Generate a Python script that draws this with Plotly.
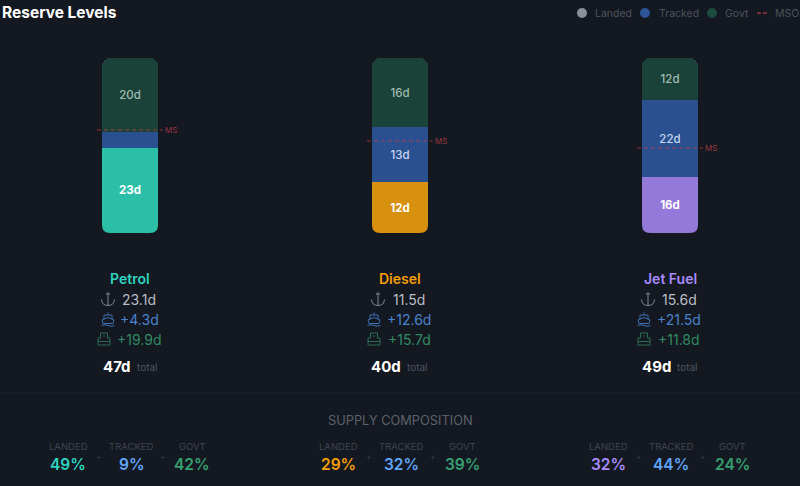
import plotly.graph_objects as go

fuels = ['Petrol', 'Diesel', 'Jet Fuel']
landed = [23.1, 11.5, 15.6]
tracked = [4.3, 12.6, 21.5]
govt = [19.9, 15.7, 11.8]
totals = [47, 40, 49]
mso_pct = [58.9, 52.6, 48.6]

landed_lbl = ['23d', '12d', '16d']
tracked_lbl = ['', '13d', '22d']
govt_lbl = ['20d', '16d', '12d']

landed_row = ['23.1d', '11.5d', '15.6d']
tracked_row = ['+4.3d', '+12.6d', '+21.5d']
govt_row = ['+19.9d', '+15.7d', '+11.8d']

landed_share = ['49%', '29%', '32%']
tracked_share = ['9%', '32%', '44%']
govt_share = ['42%', '39%', '24%']

fuel_colors = ['#2cbfa8', '#d8900f', '#9379d9']
name_colors = ['#2dd4bf', '#f59e0b', '#a78bfa']
share_colors = ['#2dd4bf', '#f59e0b', '#a78bfa']
BG = '#141820'
TRACKED = '#2a5090'
GOVT = '#1b4239'
FONT = 'Inter'

W, H = 800, 486
centers = [130, 400, 670]
UNIT = 270


def px(x, y):
    return f'{x / W:.5f},{1 - y / H:.5f}'


def path(color, d, width=1.0, fill=None):
    # d is a list of (command, (x, y), (x, y)...) in pixels
    out = ''
    for part in d:
        out += part[0] + ' '.join(px(*p) for p in part[1:]) + ' '
    return dict(type='path', xref='paper', yref='paper', path=out.strip(), fillcolor=fill,
                line=dict(color=color, width=width), layer='above')


def anchor_icon(cx, cy, color):
    return [
        path(color, [('M', (cx - 1.8, cy - 5)), ('Q', (cx, cy - 7.4), (cx + 1.8, cy - 5)),
                     ('Q', (cx, cy - 2.6), (cx - 1.8, cy - 5))]),
        path(color, [('M', (cx, cy - 3.4)), ('L', (cx, cy + 6.5))]),
        path(color, [('M', (cx - 6.5, cy + 0.5)), ('Q', (cx - 6, cy + 6.5), (cx, cy + 6.5)),
                     ('Q', (cx + 6, cy + 6.5), (cx + 6.5, cy + 0.5))]),
    ]


def ship_icon(cx, cy, color):
    return [
        path(color, [('M', (cx - 6, cy + 1)), ('L', (cx, cy - 1.5)), ('L', (cx + 6, cy + 1)),
                     ('L', (cx + 5, cy + 4.5)), ('L', (cx - 5, cy + 4.5)), ('Z',)]),
        path(color, [('M', (cx - 4, cy)), ('L', (cx - 4, cy - 4)), ('L', (cx + 4, cy - 4)), ('L', (cx + 4, cy))]),
        path(color, [('M', (cx, cy - 4)), ('L', (cx, cy - 6.5))]),
        path(color, [('M', (cx - 6.5, cy + 6.5)), ('Q', (cx - 3, cy + 5), (cx, cy + 6.5)),
                     ('Q', (cx + 3, cy + 8), (cx + 6.5, cy + 6.5))]),
    ]


def tank_icon(cx, cy, color):
    return [
        path(color, [('M', (cx - 6, cy + 6)), ('L', (cx - 6, cy - 1)), ('L', (cx - 3.5, cy - 1)),
                     ('L', (cx - 3.5, cy - 6)), ('L', (cx + 3.5, cy - 6)), ('L', (cx + 3.5, cy - 1)),
                     ('L', (cx + 6, cy - 1)), ('L', (cx + 6, cy + 6)), ('Z',)]),
        path(color, [('M', (cx - 6, cy + 2.5)), ('L', (cx + 6, cy + 2.5))]),
        path(color, [('M', (cx - 1, cy - 3)), ('L', (cx + 1, cy - 3))]),
    ]


x = list(range(len(fuels)))
fig = go.Figure()
fig.add_trace(go.Bar(x=x, y=landed, marker_color=fuel_colors, text=landed_lbl,
                     textfont=dict(color='#ffffff', size=11.5, family=FONT, weight=700)))
fig.add_trace(go.Bar(x=x, y=tracked, marker_color=TRACKED, text=tracked_lbl,
                     textfont=dict(color='#c6d6f0', size=11.5, family=FONT, weight=500)))
fig.add_trace(go.Bar(x=x, y=govt, marker_color=GOVT, text=govt_lbl,
                     textfont=dict(color='#9dbcb0', size=11.5, family=FONT, weight=500)))
fig.update_traces(textposition='inside', insidetextanchor='middle', textangle=0, marker_line_width=0,
                  constraintext='none', width=56 / UNIT, showlegend=False, hoverinfo='skip')

for i, m in enumerate(mso_pct):
    fig.add_trace(go.Scatter(x=[i - 33 / UNIT, i + 33 / UNIT], y=[m, m], mode='lines', showlegend=False,
                             line=dict(color='rgba(214,60,70,0.7)', width=1, dash='4px,3px'),
                             hoverinfo='skip', cliponaxis=False))

shapes = []
notes = []


def note(px_x, px_y, text, size, color, weight=400, anchor='center'):
    notes.append(dict(x=px_x / W, y=1 - px_y / H, xref='paper', yref='paper', text=text, showarrow=False,
                      xanchor=anchor, yanchor='middle', font=dict(family=FONT, size=size, color=color, weight=weight)))


for i, c in enumerate(centers):
    notes.append(dict(x=i + 33 / UNIT, y=mso_pct[i], xref='x', yref='y', text='MS', showarrow=False,
                      xanchor='left', yanchor='middle', font=dict(family=FONT, size=8, color='#963844')))
    note(c, 278, fuels[i], 14, name_colors[i], 600)

    # plotly only rounds the top of a stack, so the two bottom corners get covered
    for sx in (-1, 1):
        ex = c + sx * 28
        shapes.append(path(BG, [('M', (ex, 225)), ('Q', (ex, 233), (ex - sx * 8, 233)),
                                ('L', (ex + sx, 233.5)), ('L', (ex + sx, 225)), ('Z',)], 0, BG))

    rows = [(landed_row[i], '#b9bdc4', 299, anchor_icon, '#83878e'),
            (tracked_row[i], '#4a82cf', 319, ship_icon, '#3f6fb5'),
            (govt_row[i], '#2f8a62', 339, tank_icon, '#2a6e50')]
    for text, color, y, icon, icon_color in rows:
        off = -22 if len(text) == 5 else -26
        note(c + 9, y, text, 14, color)
        shapes += icon(c + off, y, icon_color)

    note(c + 3, 366, f'{totals[i]}d', 15, '#ffffff', 700, 'right')
    note(c + 5, 367, 'total', 10, '#4f5560', 400, 'left')

    for off, label, value, color in [(-62, 'LANDED', landed_share[i], share_colors[i]),
                                     (1, 'TRACKED', tracked_share[i], '#60a5fa'),
                                     (62, 'GOVT', govt_share[i], '#34a070')]:
        note(c + off, 446, label, 9.5, '#3f4551')
        note(c + off, 464, value, 15.5, color, 600)
    note(c - 32, 457, '+', 8, '#3a404b')
    note(c + 32, 457, '+', 8, '#3a404b')

note(400, 420, 'SUPPLY COMPOSITION', 12.8, '#5b616c')

# legend row at the top right
for cx, color in [(582, '#8b8f98'), (645, '#2b5596'), (712, '#1d4a3e')]:
    shapes.append(dict(type='circle', xref='paper', yref='paper', x0=(cx - 5) / W, x1=(cx + 5) / W,
                       y0=1 - 18 / H, y1=1 - 8 / H, fillcolor=color, line_width=0))
shapes.append(dict(type='line', xref='paper', yref='paper', x0=757 / W, x1=768 / W, y0=1 - 13 / H, y1=1 - 13 / H,
                   line=dict(color='#d6444f', width=1.2, dash='4px,2px')))
for lx, label in [(593, 'Landed'), (657, 'Tracked'), (723, 'Govt'), (773, 'MSO')]:
    note(lx, 13, label, 10.5, '#4d535e', 400, 'left')

shapes.append(dict(type='line', xref='paper', yref='paper', x0=0, x1=1, y0=1 - 393 / H, y1=1 - 393 / H,
                   line=dict(color='#20252e', width=1)))

fig.update_layout(
    width=W, height=H, barmode='stack', barnorm='percent', barcornerradius=8,
    paper_bgcolor=BG, plot_bgcolor=BG, margin=dict(l=0, r=0, t=0, b=0),
    title=dict(text='Reserve Levels', x=2 / W, xanchor='left', y=1 - 13 / H, yanchor='middle',
               font=dict(family=FONT, size=15.5, color='#ffffff', weight=700)),
    xaxis=dict(range=[-130 / UNIT, (W - 130) / UNIT], visible=False, domain=[0, 1]),
    yaxis=dict(range=[0, 100], visible=False, domain=[1 - 233 / H, 1 - 58 / H]),
    shapes=shapes, annotations=notes,
)

fig.write_html('out.html', config=dict(displayModeBar=False),
               post_script="document.body.style.margin='0';document.body.style.background='#141820';")
